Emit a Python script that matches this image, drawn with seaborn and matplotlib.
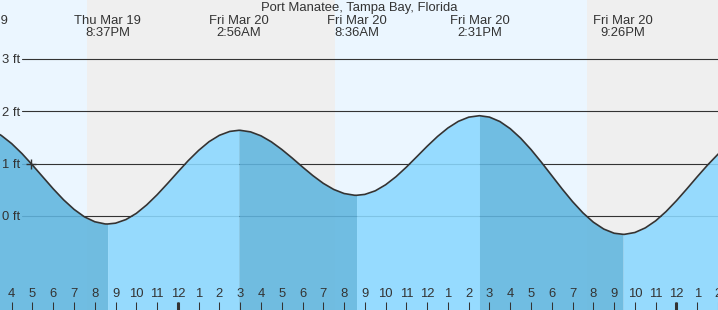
import numpy as np
import pandas as pd
import matplotlib
matplotlib.use("Agg")
import matplotlib.pyplot as plt
import seaborn as sns
from matplotlib.transforms import blended_transform_factory

# ---------------- data (hours since Thu Mar 19 00:00, height in ft) ----------------
times = [15.0, 15.5, 16.0, 16.5, 17.0, 17.5, 18.0, 18.5, 19.0, 19.5, 20.0, 20.5, 20.617,
         21.0, 21.5, 22.0, 22.5, 23.0, 23.5, 24.0, 24.5, 25.0, 25.5, 26.0, 26.5, 26.933,
         27.0, 27.5, 28.0, 28.5, 29.0, 29.5, 30.0, 30.5, 31.0, 31.5, 32.0, 32.5, 32.6,
         33.0, 33.5, 34.0, 34.5, 35.0, 35.5, 36.0, 36.5, 37.0, 37.5, 38.0, 38.517,
         39.0, 39.5, 40.0, 40.5, 41.0, 41.5, 42.0, 42.5, 43.0, 43.5, 44.0, 44.5, 45.0, 45.433,
         45.5, 46.0, 46.5, 47.0, 47.5, 48.0, 48.5, 49.0, 49.5, 50.0, 50.5]
heights = [1.649, 1.537, 1.381, 1.189, 0.972, 0.745, 0.518, 0.308, 0.127, -0.016, -0.110, -0.152, -0.153,
           -0.137, -0.068, 0.050, 0.212, 0.405, 0.619, 0.840, 1.057, 1.252, 1.418, 1.540, 1.614, 1.635,
           1.635, 1.605, 1.530, 1.415, 1.270, 1.107, 0.935, 0.770, 0.623, 0.507, 0.429, 0.396, 0.395,
           0.412, 0.480, 0.596, 0.750, 0.933, 1.131, 1.331, 1.518, 1.680, 1.806, 1.886, 1.914,
           1.887, 1.803, 1.666, 1.485, 1.268, 1.025, 0.770, 0.515, 0.274, 0.059, -0.118, -0.249, -0.329, -0.350,
           -0.350, -0.315, -0.227, -0.092, 0.085, 0.292, 0.517, 0.749, 0.973, 1.179, 1.352]

# tide extremes (hi / lo) and their header labels
extreme_times = [14.22, 20.617, 26.933, 32.6, 38.517, 45.433]
extreme_dates = ["Thu Mar 19", "Thu Mar 19", "Fri Mar 20", "Fri Mar 20", "Fri Mar 20", "Fri Mar 20"]
extreme_clock = ["2:13PM", "8:37PM", "2:56AM", "8:36AM", "2:31PM", "9:26PM"]

# night periods (sunset -> sunrise)
night_starts = [19.624, 43.70]
night_ends = [31.558, 50.0]

# hour ticks
hour_ticks = list(range(16, 51))
hour_labels = [str(h % 12 if h % 12 else 12) for h in hour_ticks]
midnight_ticks = [24, 48]

level_ticks = [0, 1, 2, 3]
level_labels = ["0 ft", "1 ft", "2 ft", "3 ft"]

now_time, now_height = 16.91, 1.0
title = "Port Manatee, Tampa Bay, Florida"

# ---------------- style ----------------
sns.set_style("white")
plt.rcParams["font.family"] = ["Liberation Sans", "DejaVu Sans"]

DAY = "#ebf6ff"
NIGHT = "#efefef"
FALL = "#5fb5df"
RISE = "#8ad8ff"
INK = "#333333"
FS = 9.4

XMIN, XMAX = 15.437, 50.0
YMIN, YMAX = -1.794, 4.122
W, H = 718, 310

df = pd.DataFrame({"time": times, "height": heights})

fig = plt.figure(figsize=(W / 100, H / 100), dpi=100)
ax = fig.add_axes([0, 0, 1, 1])
ax.set_facecolor(DAY)
ax.set_xlim(XMIN, XMAX)
ax.set_ylim(YMIN, YMAX)

for s, e in zip(night_starts, night_ends):
    ax.axvspan(s, e, color=NIGHT, lw=0, zorder=0.1)

for lv in level_ticks:
    ax.axhline(lv, xmin=22 / W, xmax=1, color=INK, lw=0.8, zorder=0.5)

t = df["time"].to_numpy()
h = df["height"].to_numpy()
bounds = [XMIN - 2] + extreme_times[1:] + [XMAX + 2]
for i in range(len(bounds) - 1):
    m = (t >= bounds[i]) & (t <= bounds[i + 1])
    ax.fill_between(t[m], h[m], YMIN, color=FALL if i % 2 == 0 else RISE,
                    alpha=0.88, lw=0, zorder=1)

sns.lineplot(data=df, x="time", y="height", ax=ax, color=INK, lw=1.2, zorder=3)
ax.plot([now_time], [now_height], marker="+", ms=7, mew=1.0, color=INK, zorder=4)

# axes ticks
ax.set_xticks(hour_ticks)
ax.set_xticklabels(hour_labels)
ax.set_xticks(midnight_ticks, minor=True)
ax.xaxis.remove_overlapping_locs = False
ax.tick_params(axis="x", which="major", direction="in", length=5.8, width=0.75,
               color=INK, labelcolor=INK, labelsize=FS, pad=-15.8, bottom=True, top=False)
ax.tick_params(axis="x", which="minor", direction="in", length=5.8, width=2.2,
               color=INK, bottom=True, top=False)
ax.set_yticks(level_ticks)
ax.set_yticklabels(level_labels)
ax.tick_params(axis="y", direction="in", length=0, pad=-14.6, labelsize=FS,
               labelcolor=INK, left=True)
ax.set_xlabel("")
ax.set_ylabel("")
for sp in ax.spines.values():
    sp.set_visible(False)
ax.set_axisbelow(False)

trans = blended_transform_factory(ax.transData, ax.transAxes)
for tt, d, c in zip(extreme_times, extreme_dates, extreme_clock):
    ax.text(tt, 1 - 24.3 / H, d, ha="center", va="baseline", transform=trans,
            fontsize=FS, color=INK, zorder=5)
    ax.text(tt, 1 - 36.0 / H, c, ha="center", va="baseline", transform=trans,
            fontsize=FS, color=INK, zorder=5)
ax.text(0.5, 1 - 11.0 / H, title, ha="center", va="baseline", transform=ax.transAxes,
        fontsize=FS, color=INK, zorder=5)

fig.savefig("out.png", dpi=100)
